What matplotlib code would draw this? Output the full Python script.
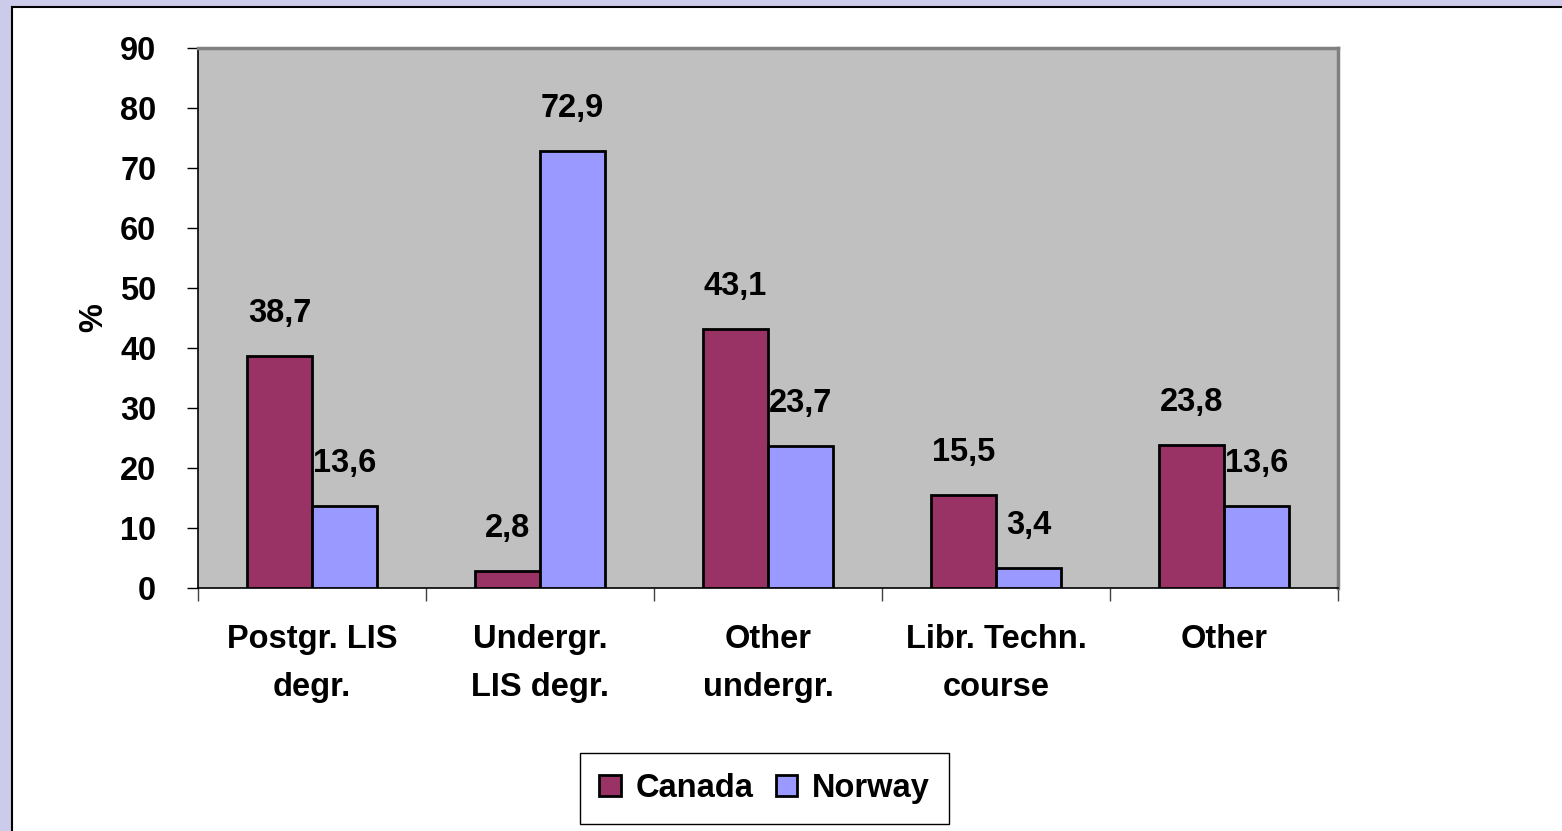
import matplotlib
matplotlib.use("Agg")
import matplotlib.pyplot as plt
import numpy as np
from matplotlib.patches import Rectangle

categories = ["Postgr. LIS\ndegr.", "Undergr.\nLIS degr.", "Other\nundergr.", "Libr. Techn.\ncourse", "Other"]
canada = [38.7, 2.8, 43.1, 15.5, 23.8]
norway = [13.6, 72.9, 23.7, 3.4, 13.6]
series_names = ["Canada", "Norway"]
yticks = [0, 10, 20, 30, 40, 50, 60, 70, 80, 90]

plt.rcParams['font.family'] = ['Liberation Sans', 'DejaVu Sans']
W, H = 1562, 831
fig = plt.figure(figsize=(W / 100, H / 100), dpi=100)
fig.patch.set_facecolor('#ccccea')
# white inner panel with black left/top edge
fig.patches.append(Rectangle((11 / W, 0), 1 - 11 / W, 1 - 6 / H, transform=fig.transFigure,
                             facecolor='white', edgecolor='none', zorder=-10))
fig.add_artist(plt.Line2D([11.5 / W, 11.5 / W], [0, 1 - 6.5 / H], color='black', lw=1.5,
                          transform=fig.transFigure, zorder=-5))
fig.add_artist(plt.Line2D([11.5 / W, 1], [1 - 6.5 / H, 1 - 6.5 / H], color='black', lw=1.5,
                          transform=fig.transFigure, zorder=-5))

ax = fig.add_axes([198 / W, (H - 588) / H, (1338 - 198) / W, (588 - 48) / H])
ax.set_facecolor('#c0c0c0')

x = np.arange(len(categories))
bw = 0.285
fs = 23.5
b1 = ax.bar(x - bw / 2, canada, bw, color='#993366', edgecolor='black', linewidth=2, label=series_names[0], zorder=3)
b2 = ax.bar(x + bw / 2, norway, bw, color='#9999ff', edgecolor='black', linewidth=2, label=series_names[1], zorder=3)

for bars, vals in ((b1, canada), (b2, norway)):
    for rect, v in zip(bars, vals):
        ax.annotate(f"{v:.1f}".replace('.', ','), (rect.get_x() + rect.get_width() / 2, v),
                    xytext=(0, 27 * 0.72), textcoords='offset points',
                    ha='center', va='bottom', fontsize=fs, fontweight='bold')

ax.set_xlim(-0.5, len(categories) - 0.5)
ax.set_ylim(0, 90)
ax.set_yticks(yticks)
ax.set_yticklabels([str(t) for t in yticks], fontsize=fs, fontweight='bold')
ax.tick_params(axis='y', direction='out', length=8, width=1, pad=22)
ax.set_xticks(np.arange(len(categories) + 1) - 0.5)
ax.set_xticklabels([])
ax.set_xticks(x, minor=True)
ax.set_xticklabels(categories, minor=True, fontsize=fs, fontweight='bold', linespacing=1.7)
ax.tick_params(axis='x', which='major', direction='out', length=9, width=1, color='#404040')
ax.tick_params(axis='x', which='minor', length=0, pad=26)

for s in ('left', 'bottom'):
    ax.spines[s].set_color('black')
    ax.spines[s].set_linewidth(1.2)
for s in ('top', 'right'):
    ax.spines[s].set_color('#808080')
    ax.spines[s].set_linewidth(2.5)

ax.set_ylabel('%', fontsize=fs, fontweight='bold', labelpad=8)

leg = fig.legend(handles=[b1, b2], labels=series_names, loc='center',
                 bbox_to_anchor=(764.5 / W, 1 - 788.5 / H), ncol=2, fancybox=False,
                 edgecolor='black', framealpha=1, prop={'size': fs, 'weight': 'bold'},
                 handlelength=0.65, handleheight=0.65, handletextpad=0.45, columnspacing=0.7,
                 borderpad=0.6, borderaxespad=0)
leg.get_frame().set_linewidth(1)

fig.savefig('out.png', dpi=100, facecolor=fig.get_facecolor())
